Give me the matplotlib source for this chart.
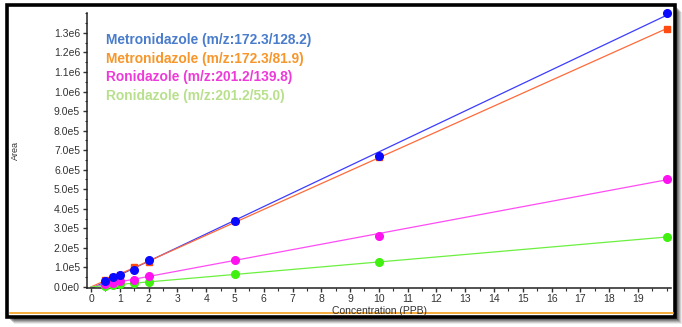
import numpy as np
import matplotlib.pyplot as plt
from matplotlib.patches import Rectangle
from matplotlib.lines import Line2D
from matplotlib.ticker import FixedLocator, MultipleLocator, FuncFormatter

plt.rcParams['font.family'] = ['Liberation Sans', 'DejaVu Sans']

# calibration levels (PPB) and peak areas
conc = [0.5, 0.75, 1.0, 1.5, 2.0, 5.0, 10.0, 20.0]
metro_128 = [0.28e5, 0.52e5, 0.63e5, 0.88e5, 1.40e5, 3.39e5, 6.72e5, 14.0e5]
metro_82 = [0.36e5, 0.50e5, 0.62e5, 1.00e5, 1.25e5, 3.36e5, 6.65e5, 13.2e5]
roni_140 = [0.14e5, 0.21e5, 0.28e5, 0.37e5, 0.55e5, 1.37e5, 2.63e5, 5.53e5]
roni_55 = [0.06e5, 0.10e5, 0.13e5, 0.19e5, 0.26e5, 0.65e5, 1.26e5, 2.56e5]

names = ["Metronidazole (m/z:172.3/128.2)",
         "Metronidazole (m/z:172.3/81.9)",
         "Ronidazole (m/z:201.2/139.8)",
         "Ronidazole (m/z:201.2/55.0)"]
series = [metro_128, metro_82, roni_140, roni_55]
mark_col = ["#0a0aff", "#ff4a12", "#ff10f0", "#40f010"]
line_col = ["#3c3cff", "#ff6a3a", "#ff4cf4", "#6cf040"]
text_col = ["#4a7ccc", "#f7962a", "#ee3ad8", "#b8e08c"]
markers = ["o", "s", "o", "o"]

W, H = 682, 327
fig = plt.figure(figsize=(W / 100, H / 100), dpi=100)
fig.patch.set_facecolor("white")

# drop shadow + black frame
for k, a in enumerate([0.08, 0.12, 0.16, 0.20, 0.24]):
    d = 7 - k
    fig.patches.append(Rectangle(((7 + d) / W, (10 - d) / H), 668 / W, 312 / H,
                                 transform=fig.transFigure, facecolor="black",
                                 edgecolor="none", alpha=a, zorder=-3))
fig.patches.append(Rectangle((7 / W, 10 / H), 668 / W, 312 / H,
                             transform=fig.transFigure, facecolor="white",
                             edgecolor="black", linewidth=2.6, zorder=-2))
fig.lines.append(Line2D([9.5 / W, 672.5 / W], [13.8 / H, 13.8 / H], transform=fig.transFigure,
                        color="#f5a01a", linewidth=1.2, zorder=-1))

ax = fig.add_axes([87 / W, 39.5 / H, 584 / W, 274.5 / H])
ax.set_facecolor("none")

xfit = np.linspace(0, 20.15, 50)
for ys, mc, lc, m in zip(series, mark_col, line_col, markers):
    k, b = np.polyfit(conc, ys, 1)
    ax.plot(xfit, k * xfit + b, color=lc, linewidth=0.9, zorder=2)
for ys, mc, lc, m in reversed(list(zip(series, mark_col, line_col, markers))):
    ax.plot(conc, ys, linestyle="none", marker=m, color=mc,
            markersize=5.5 if m == "o" else 4.8, clip_on=False, zorder=3)

ax.set_xlim(-0.14, 20.15)
ax.set_ylim(-0.003e6, 1.402e6)

ax.xaxis.set_major_locator(FixedLocator(range(0, 20)))
ax.xaxis.set_minor_locator(MultipleLocator(0.5))
ax.yaxis.set_major_locator(FixedLocator(np.arange(0, 14) * 1e5))
ax.yaxis.set_minor_locator(MultipleLocator(0.5e5))


def sci(v, pos):
    if v == 0:
        return "0.0e0"
    e = int(np.floor(np.log10(abs(v)) + 1e-9))
    return f"{v / 10 ** e:.1f}e{e}"


ax.yaxis.set_major_formatter(FuncFormatter(sci))

for s in ["top", "right"]:
    ax.spines[s].set_visible(False)
for s in ["left", "bottom"]:
    ax.spines[s].set_linewidth(1.1)
    ax.spines[s].set_color("#222222")
ax.tick_params(which="major", length=3, width=1, color="#333333",
               labelsize=7.5, labelcolor="#333333", pad=2)
ax.tick_params(which="minor", length=1.8, width=0.8, color="#333333")

ax.set_xlabel("Concentration (PPB)", fontsize=7.5, color="#333333", labelpad=1)
fig.text(15 / W, 1 - 150 / H, "Area", rotation=90, fontsize=6.5, color="#333333",
         ha="center", va="center")

for i, (name, tc) in enumerate(zip(names, text_col)):
    fig.text(106 / W, 1 - (40 + 18.5 * i) / H, name, color=tc, fontsize=9.9,
             fontweight="bold", ha="left", va="center")

fig.savefig("out.png", dpi=100)
